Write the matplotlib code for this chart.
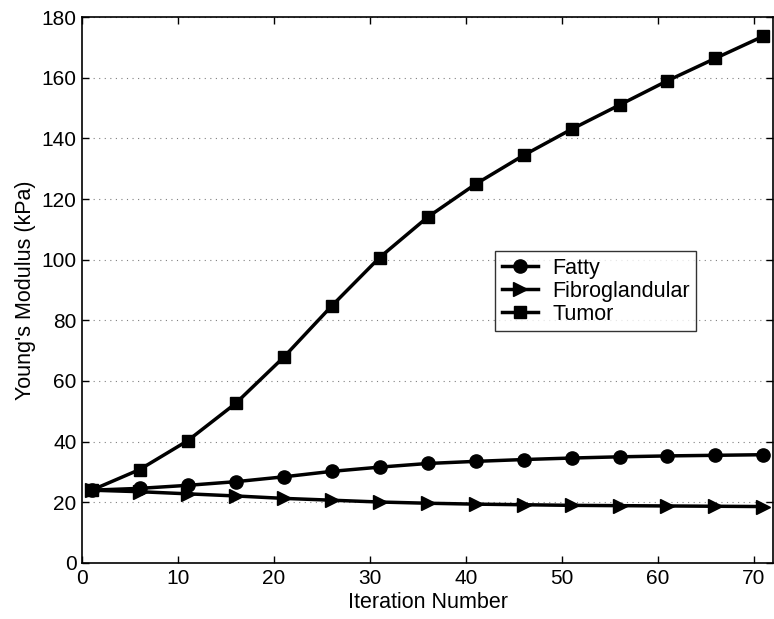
import numpy as np
import matplotlib
matplotlib.use("Agg")
import matplotlib.pyplot as plt

plt.rcParams['font.family'] = ['Liberation Sans', 'DejaVu Sans']

# iteration numbers
iterations = [1, 6, 11, 16, 21, 26, 31, 36, 41, 46, 51, 56, 61, 66, 71]

# Young's modulus (kPa) per tissue
fatty = [24.0, 24.6, 25.6, 26.8, 28.4, 30.2, 31.6, 32.8, 33.5, 34.1, 34.6, 35.0, 35.3, 35.5, 35.7]
fibro = [24.0, 23.5, 22.8, 22.1, 21.3, 20.7, 20.1, 19.7, 19.4, 19.2, 19.0, 18.9, 18.8, 18.7, 18.6]
tumor = [24.0, 30.8, 40.3, 52.6, 67.8, 84.7, 100.7, 114.0, 124.9, 134.4, 143.0, 151.0, 159.0, 166.4, 173.7]

fig = plt.figure(figsize=(7.74, 6.19), dpi=100)
ax = fig.add_axes([0.106, 0.0905, 0.8928, 0.882])

ax.plot(iterations, fatty, color='k', lw=2.5, marker='o', ms=9.5, label='Fatty', clip_on=False)
ax.plot(iterations, fibro, color='k', lw=2.5, marker='>', ms=10.5, label='Fibroglandular', clip_on=False)
ax.plot(iterations, tumor, color='k', lw=2.5, marker='s', ms=8, label='Tumor', clip_on=False)

ax.set_xlim(0, 72)
ax.set_ylim(0, 180)
ax.set_xticks(range(0, 71, 10))
ax.set_yticks(range(0, 181, 20))
ax.yaxis.grid(True, linestyle=(0, (1, 4)), color='#808080', lw=0.8)
ax.tick_params(direction='in', top=True, right=True, labelsize=15, length=5, width=1, pad=4)
for s in ax.spines.values():
    s.set_linewidth(1.2)

ax.set_xlabel('Iteration Number', fontsize=15.5, labelpad=3)
ax.set_ylabel("Young's Modulus (kPa)", fontsize=15.5, labelpad=4)

leg = ax.legend(loc='upper left', bbox_to_anchor=(0.598, 0.571), borderaxespad=0,
                fontsize=15.5, frameon=True, fancybox=False, edgecolor='k',
                handlelength=1.7, borderpad=0.3, labelspacing=0.1, handletextpad=0.65)
leg.get_frame().set_linewidth(1.0)

fig.savefig('out.png', dpi=100)
